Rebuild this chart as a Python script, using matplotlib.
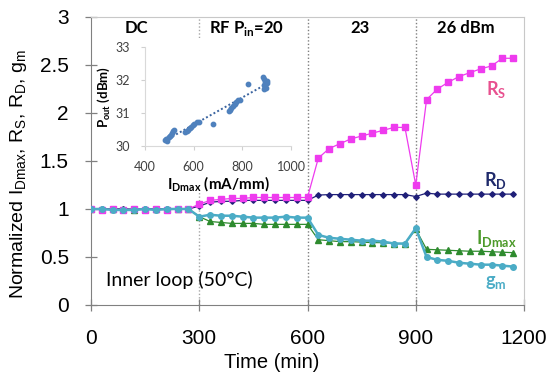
import matplotlib
matplotlib.use("Agg")
import matplotlib.pyplot as plt
import numpy as np

plt.rcParams["font.family"] = ["Liberation Sans", "DejaVu Sans"]

# stress time (min), one point every 30 min
time_min = list(range(0, 1200, 30))

rs = [1.00, 0.99, 1.00, 0.99, 1.00, 0.99, 1.00, 0.99, 1.00, 1.00,
      1.05, 1.09, 1.10, 1.11, 1.11, 1.12, 1.12, 1.12, 1.12, 1.12,
      1.12, 1.53, 1.63, 1.68, 1.73, 1.76, 1.79, 1.82, 1.85, 1.85,
      1.25, 2.14, 2.25, 2.32, 2.38, 2.42, 2.46, 2.49, 2.57, 2.57]
rd = [1.00, 1.00, 1.00, 1.00, 1.00, 1.00, 1.00, 1.00, 1.00, 1.00,
      1.03, 1.07, 1.08, 1.08, 1.09, 1.09, 1.09, 1.09, 1.09, 1.09,
      1.09, 1.145, 1.15, 1.15, 1.15, 1.15, 1.15, 1.15, 1.15, 1.15,
      1.13, 1.165, 1.155, 1.155, 1.155, 1.155, 1.155, 1.155, 1.155, 1.155]
idmax = [1.00, 1.00, 1.00, 1.00, 0.99, 1.00, 1.00, 1.00, 1.00, 1.00,
         0.92, 0.87, 0.86, 0.85, 0.85, 0.85, 0.84, 0.84, 0.84, 0.84,
         0.84, 0.68, 0.67, 0.66, 0.66, 0.655, 0.65, 0.65, 0.64, 0.64,
         0.79, 0.58, 0.575, 0.57, 0.565, 0.56, 0.56, 0.555, 0.55, 0.545]
gm = [1.00, 1.00, 0.99, 0.99, 0.99, 1.00, 0.99, 1.00, 1.00, 1.00,
      0.92, 0.94, 0.93, 0.93, 0.92, 0.91, 0.91, 0.91, 0.92, 0.91,
      0.91, 0.73, 0.70, 0.69, 0.68, 0.67, 0.67, 0.66, 0.64, 0.64,
      0.80, 0.50, 0.47, 0.46, 0.44, 0.43, 0.42, 0.42, 0.41, 0.40]

stage_edges = [300, 600, 900]
stage_labels = ["DC", "RF P$_{\\mathregular{in}}$=20", "23", "26 dBm"]
stage_x = [127, 432, 745, 1039]

# inset: Pout vs IDmax
inset_idmax = [482, 487, 490, 492, 497, 502, 506, 511, 516, 521,
               565, 572, 578, 584, 590, 596, 602, 612, 620, 680,
               746, 750, 755, 760, 768, 775, 782, 790, 825,
               886, 888, 890, 890, 892, 895, 896, 900, 900]
inset_pout = [30.18, 30.20, 30.16, 30.22, 30.26, 30.30, 30.33, 30.38, 30.44, 30.50,
              30.42, 30.46, 30.50, 30.54, 30.58, 30.63, 30.68, 30.73, 30.74, 30.66,
              31.05, 31.10, 31.15, 31.20, 31.26, 31.32, 31.40, 31.40, 31.88,
              32.10, 31.85, 32.02, 31.72, 31.80, 31.95, 31.75, 31.97, 31.92]

fig = plt.figure(figsize=(5.49, 3.72), dpi=100)
ax = fig.add_axes([91 / 549, 1 - 305 / 372, 433 / 549, 288 / 372])

for i, x in enumerate(stage_edges):
    ax.axvline(x, color="#A6A6A6" if i == 0 else "#7F7F7F", ls=(0, (1, 1.5)), lw=1, zorder=1)

ax.plot(time_min, idmax, color="#2E8B2E", lw=0.9, marker="^", ms=3.8, zorder=3)
ax.plot(time_min, rd, color="#1F1F78", lw=0.9, marker="D", ms=2.8, zorder=3)
ax.plot(time_min, rs, color="#EE3BEE", lw=0.9, marker="s", ms=3.9, zorder=3)
ax.plot(time_min, gm, color="#4BACC6", lw=1.8, marker="o", ms=4, zorder=4)

ax.set_xlim(0, 1200)
ax.set_ylim(0, 3)
ax.set_xticks([0, 300, 600, 900, 1200])
ax.set_yticks([0, 0.5, 1, 1.5, 2, 2.5, 3])
ax.set_yticklabels(["0", "0.5", "1", "1.5", "2", "2.5", "3"])
ax.tick_params(axis="both", direction="inout", length=8, width=0.9, color="#808080", labelsize=15)
ax.tick_params(axis="x", pad=13)
ax.tick_params(axis="y", pad=12)
for side in ["left", "bottom"]:
    ax.spines[side].set_color("#808080")
for side in ["top", "right"]:
    ax.spines[side].set_color("#C8C8C8")

ax.set_xlabel("Time (min)", fontsize=14.5)
ax.xaxis.set_label_coords(0.418, -0.168)
ax.set_ylabel("Normalized $\\mathregular{I_{Dmax}}$, $\\mathregular{R_S}$, "
              "$\\mathregular{R_D}$, $\\mathregular{g_m}$", fontsize=14)
ax.yaxis.set_label_coords(-0.143, 0.455)

for label, x in zip(stage_labels, stage_x):
    ax.text(x, 2.885, label, ha="center", va="center", fontsize=12,
            fontweight="bold", family=["Lato", "DejaVu Sans"])

ax.text(42, 0.26, "Inner loop (50°C)", ha="left", va="center", fontsize=14,
        family=["Lato", "DejaVu Sans"])

series_tags = [("R$_{\\mathregular{S}}$", 2.25, "#E8508F"),
               ("R$_{\\mathregular{D}}$", 1.30, "#1F2A6B"),
               ("I$_{\\mathregular{Dmax}}$", 0.69, "#4C9A2A"),
               ("g$_{\\mathregular{m}}$", 0.23, "#4BACC6")]
for text, y, color in series_tags:
    ax.text(1122, y, text, ha="center", va="center", fontsize=13, color=color,
            fontweight="bold", family=["Lato", "DejaVu Sans"])

# white backing of the pasted inset picture
bg = fig.add_axes([105 / 549, 1 - 192 / 372, 195 / 549, 154 / 372])
bg.axis("off")
bg.add_patch(plt.Rectangle((0, 0), 1, 1, transform=bg.transAxes, color="white"))

axins = fig.add_axes([145 / 549, 1 - 146 / 372, 146 / 549, 99 / 372])
axins.scatter(inset_idmax, inset_pout, s=10, color="#4F81BD", zorder=3)
fit = np.polyfit(inset_idmax, inset_pout, 1)
fit_x = np.array([min(inset_idmax), max(inset_idmax)])
axins.plot(fit_x, np.polyval(fit, fit_x), color="#3A64A0", ls=(0, (1, 1.2)), lw=1.4)
axins.set_xlim(400, 1000)
axins.set_ylim(30, 33)
axins.set_xticks([400, 600, 800, 1000])
axins.set_yticks([30, 31, 32, 33])
axins.tick_params(direction="out", length=3, color="#D0D0D0", labelsize=9,
                  labelcolor="#404040")
axins.tick_params(axis="x", pad=8)
axins.tick_params(axis="y", pad=8)
for t in axins.get_xticklabels() + axins.get_yticklabels():
    t.set_family(["Lato", "DejaVu Sans"])
axins.spines["top"].set_visible(False)
axins.spines["right"].set_visible(False)
axins.spines["left"].set_color("#D9D9D9")
axins.spines["bottom"].set_color("#D9D9D9")
axins.set_xlabel("I$_{\\mathregular{Dmax}}$ (mA/mm)", fontsize=11, fontweight="bold",
                 family=["Lato", "DejaVu Sans"], labelpad=1)
axins.set_ylabel("P$_{\\mathregular{out}}$ (dBm)", fontsize=9.5, fontweight="bold",
                 family=["Lato", "DejaVu Sans"], labelpad=2)

fig.savefig("out.png", dpi=100)
